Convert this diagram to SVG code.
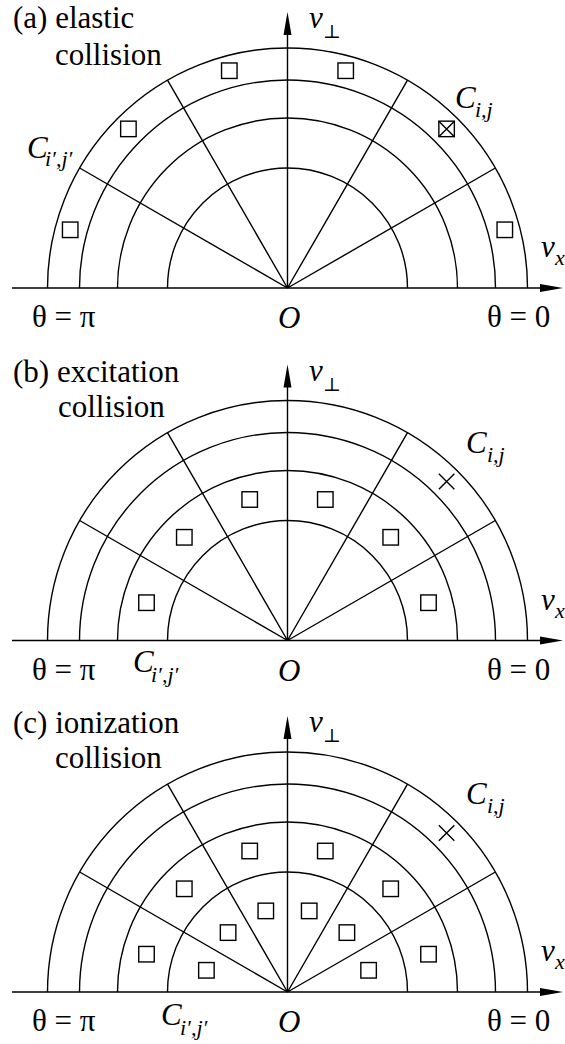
<svg xmlns="http://www.w3.org/2000/svg" width="565" height="1044" viewBox="0 0 565 1044">
<style>
.ln{fill:none;stroke:#000;stroke-width:1.4}
.ah{fill:#000;stroke:none}
.sq{fill:#fff;stroke:#000;stroke-width:1.4}
</style>
<rect width="565" height="1044" fill="#fff"/>

<g id="panel-a" transform="translate(0,288)">
<path class="ln" d="M167.5,0 A120,120 0 0 1 407.5,0 M117.5,0 A170,170 0 0 1 457.5,0 M79.5,0 A208,208 0 0 1 495.5,0 M47.5,0 A240,240 0 0 1 527.5,0"/>
<path class="ln" d="M287.5,0 L495.35,-120 M287.5,0 L407.5,-207.85 M287.5,0 L167.5,-207.85 M287.5,0 L79.65,-120"/>
<path class="ln" d="M12,0 L543,0 M287.5,0 L287.5,-256"/>
<path class="ah" d="M563,0 L540,-4 L540,4 Z M287.5,-276 L283.5,-253 L291.5,-253 Z"/>
<rect class="sq" x="497.05" y="-65.95" width="15.5" height="15.5"/>
<rect class="sq" x="438.85" y="-166.85" width="15.5" height="15.5"/>
<path class="ln" d="M438.85,-166.85 L454.35,-151.35 M454.35,-166.85 L438.85,-151.35"/>
<rect class="sq" x="337.95" y="-225.05" width="15.5" height="15.5"/>
<rect class="sq" x="221.55" y="-225.05" width="15.5" height="15.5"/>
<rect class="sq" x="120.65" y="-166.85" width="15.5" height="15.5"/>
<rect class="sq" x="62.45" y="-65.95" width="15.5" height="15.5"/>
</g>
<g id="labels-a">
<text font-family="Liberation Serif" font-size="31" x="13" y="28">(a) elastic</text>
<text font-family="Liberation Serif" font-size="31" x="55" y="65">collision</text>
<text font-family="Liberation Serif" font-size="31" font-style="italic" x="309" y="28">v</text>
<text font-family="DejaVu Serif" font-size="19" x="323" y="38">⊥</text>
<text font-family="Liberation Serif" font-size="31" font-style="italic" x="455" y="108">C</text>
<text font-family="Liberation Serif" font-size="22" font-style="italic" x="475" y="117">i,j</text>
<text font-family="Liberation Serif" font-size="31" font-style="italic" x="27" y="158">C</text>
<text font-family="Liberation Serif" font-size="22" font-style="italic" x="45" y="166">i′,j′</text>
<text font-family="Liberation Serif" font-size="31" font-style="italic" x="541" y="257">v</text>
<text font-family="Liberation Serif" font-size="22" font-style="italic" x="555" y="265">x</text>
<text font-family="Liberation Serif" font-size="31" x="32" y="327">θ = π</text>
<text font-family="Liberation Serif" font-size="31" font-style="italic" x="278" y="328">O</text>
<text font-family="Liberation Serif" font-size="31" x="487" y="327">θ = 0</text>
</g>

<g id="panel-b" transform="translate(0,640.5)">
<path class="ln" d="M167.5,0 A120,120 0 0 1 407.5,0 M117.5,0 A170,170 0 0 1 457.5,0 M79.5,0 A208,208 0 0 1 495.5,0 M47.5,0 A240,240 0 0 1 527.5,0"/>
<path class="ln" d="M287.5,0 L495.35,-120 M287.5,0 L407.5,-207.85 M287.5,0 L167.5,-207.85 M287.5,0 L79.65,-120"/>
<path class="ln" d="M12,0 L543,0 M287.5,0 L287.5,-256"/>
<path class="ah" d="M563,0 L540,-4 L540,4 Z M287.5,-276 L283.5,-253 L291.5,-253 Z"/>
<path class="ln" d="M438.85,-166.85 L454.35,-151.35 M454.35,-166.85 L438.85,-151.35"/>
<rect class="sq" x="420.75" y="-45.55" width="15.5" height="15.5"/>
<rect class="sq" x="382.95" y="-110.95" width="15.5" height="15.5"/>
<rect class="sq" x="317.55" y="-148.75" width="15.5" height="15.5"/>
<rect class="sq" x="241.95" y="-148.75" width="15.5" height="15.5"/>
<rect class="sq" x="176.55" y="-110.95" width="15.5" height="15.5"/>
<rect class="sq" x="138.75" y="-45.55" width="15.5" height="15.5"/>
</g>
<g id="labels-b">
<text font-family="Liberation Serif" font-size="31" x="13" y="381.5">(b) excitation</text>
<text font-family="Liberation Serif" font-size="31" x="58" y="416.5">collision</text>
<text font-family="Liberation Serif" font-size="31" font-style="italic" x="309" y="380.5">v</text>
<text font-family="DejaVu Serif" font-size="19" x="323" y="390.5">⊥</text>
<text font-family="Liberation Serif" font-size="31" font-style="italic" x="466" y="452.5">C</text>
<text font-family="Liberation Serif" font-size="22" font-style="italic" x="487" y="461.5">i,j</text>
<text font-family="Liberation Serif" font-size="31" font-style="italic" x="133" y="671.5">C</text>
<text font-family="Liberation Serif" font-size="22" font-style="italic" x="151" y="681.5">i′,j′</text>
<text font-family="Liberation Serif" font-size="31" font-style="italic" x="541" y="609.5">v</text>
<text font-family="Liberation Serif" font-size="22" font-style="italic" x="555" y="617.5">x</text>
<text font-family="Liberation Serif" font-size="31" x="32" y="679.5">θ = π</text>
<text font-family="Liberation Serif" font-size="31" font-style="italic" x="278" y="680.5">O</text>
<text font-family="Liberation Serif" font-size="31" x="487" y="679.5">θ = 0</text>
</g>

<g id="panel-c" transform="translate(0,992)">
<path class="ln" d="M167.5,0 A120,120 0 0 1 407.5,0 M117.5,0 A170,170 0 0 1 457.5,0 M79.5,0 A208,208 0 0 1 495.5,0 M47.5,0 A240,240 0 0 1 527.5,0"/>
<path class="ln" d="M287.5,0 L495.35,-120 M287.5,0 L407.5,-207.85 M287.5,0 L167.5,-207.85 M287.5,0 L79.65,-120"/>
<path class="ln" d="M12,0 L543,0 M287.5,0 L287.5,-256"/>
<path class="ah" d="M563,0 L540,-4 L540,4 Z M287.5,-276 L283.5,-253 L291.5,-253 Z"/>
<path class="ln" d="M438.85,-166.85 L454.35,-151.35 M454.35,-166.85 L438.85,-151.35"/>
<rect class="sq" x="420.75" y="-45.55" width="15.5" height="15.5"/>
<rect class="sq" x="382.95" y="-110.95" width="15.5" height="15.5"/>
<rect class="sq" x="317.55" y="-148.75" width="15.5" height="15.5"/>
<rect class="sq" x="241.95" y="-148.75" width="15.5" height="15.5"/>
<rect class="sq" x="176.55" y="-110.95" width="15.5" height="15.5"/>
<rect class="sq" x="138.75" y="-45.55" width="15.5" height="15.5"/>
<rect class="sq" x="360.85" y="-29.45" width="15.5" height="15.5"/>
<rect class="sq" x="339.15" y="-67.15" width="15.5" height="15.5"/>
<rect class="sq" x="301.45" y="-88.85" width="15.5" height="15.5"/>
<rect class="sq" x="258.05" y="-88.85" width="15.5" height="15.5"/>
<rect class="sq" x="220.35" y="-67.15" width="15.5" height="15.5"/>
<rect class="sq" x="198.65" y="-29.45" width="15.5" height="15.5"/>
</g>
<g id="labels-c">
<text font-family="Liberation Serif" font-size="31" x="13" y="733">(c) ionization</text>
<text font-family="Liberation Serif" font-size="31" x="55" y="768">collision</text>
<text font-family="Liberation Serif" font-size="31" font-style="italic" x="309" y="732">v</text>
<text font-family="DejaVu Serif" font-size="19" x="323" y="742">⊥</text>
<text font-family="Liberation Serif" font-size="31" font-style="italic" x="466" y="804">C</text>
<text font-family="Liberation Serif" font-size="22" font-style="italic" x="487" y="813">i,j</text>
<text font-family="Liberation Serif" font-size="31" font-style="italic" x="161" y="1025">C</text>
<text font-family="Liberation Serif" font-size="22" font-style="italic" x="180" y="1035">i′,j′</text>
<text font-family="Liberation Serif" font-size="31" font-style="italic" x="541" y="961">v</text>
<text font-family="Liberation Serif" font-size="22" font-style="italic" x="555" y="969">x</text>
<text font-family="Liberation Serif" font-size="31" x="32" y="1031">θ = π</text>
<text font-family="Liberation Serif" font-size="31" font-style="italic" x="278" y="1032">O</text>
<text font-family="Liberation Serif" font-size="31" x="487" y="1031">θ = 0</text>
</g>
</svg>
